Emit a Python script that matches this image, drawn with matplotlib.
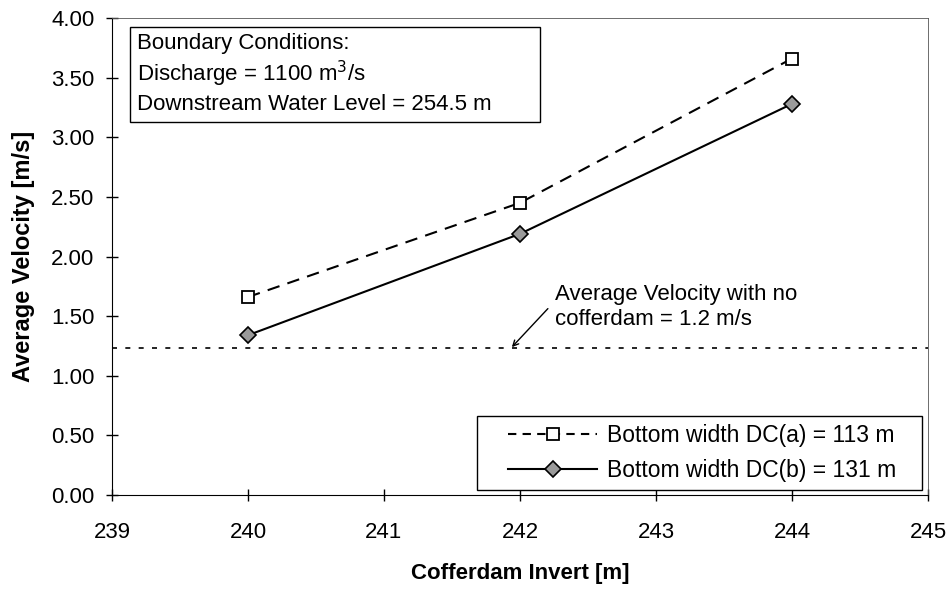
import numpy as np
import matplotlib.pyplot as plt
from matplotlib.lines import Line2D
from matplotlib.patches import Rectangle

plt.rcParams['font.family'] = ['Liberation Sans', 'DejaVu Sans']

# data
invert = [240, 242, 244]
vel_a = [1.66, 2.45, 3.66]      # bottom width DC(a) = 113 m
vel_b = [1.34, 2.19, 3.28]      # bottom width DC(b) = 131 m
no_cofferdam_x = [239, 245]
no_cofferdam_v = [1.23, 1.23]

xticks = [239, 240, 241, 242, 243, 244, 245]
yticks = [0.0, 0.5, 1.0, 1.5, 2.0, 2.5, 3.0, 3.5, 4.0]
box_lines = ['Boundary Conditions:', 'Discharge = 1100 m$^3$/s',
             'Downstream Water Level = 254.5 m']
labels = ['Bottom width DC(a) = 113 m', 'Bottom width DC(b) = 131 m']

fs = 16

fig = plt.figure(figsize=(9.53, 5.9), dpi=100)
ax = fig.add_axes([0.1175, 0.161, 0.8563, 0.8085])

ax.plot(no_cofferdam_x, no_cofferdam_v, color='black', lw=1.2, ls=(0, (3, 5)))
ax.plot(invert, vel_a, color='black', lw=1.5, ls=(0, (6, 4)),
        marker='s', ms=9, mfc='white', mec='black', mew=1.3)
ax.plot(invert, vel_b, color='black', lw=1.5, ls='-',
        marker='D', ms=8, mfc='#9a9a9a', mec='black', mew=1.2)

ax.set_xlim(239, 245)
ax.set_ylim(0, 4)
ax.set_xticks(xticks)
ax.set_yticks(yticks)
ax.set_yticklabels(['%.2f' % v for v in yticks])
ax.tick_params(direction='inout', length=9, width=1, labelsize=fs)
ax.tick_params(axis='x', pad=15)
ax.tick_params(axis='y', pad=8)
for s in ['top', 'right']:
    ax.spines[s].set_linewidth(0.6)
    ax.spines[s].set_color('#555555')

ax.set_xlabel('Cofferdam Invert [m]', fontsize=fs, fontweight='bold', labelpad=14)
ax.set_ylabel('Average Velocity [m/s]', fontsize=17, fontweight='bold', labelpad=12)

# boundary conditions box
ax.add_patch(Rectangle((239.136, 3.126), 3.011, 0.798, fc='white', ec='black',
                       lw=1, zorder=3))
for i, line in enumerate(box_lines):
    ax.text(239.186, 3.782 - i * 0.253, line, fontsize=fs, va='center',
            ha='left', zorder=4)

# note on the no-cofferdam velocity
ax.text(242.256, 1.58, 'Average Velocity with no\ncofferdam = 1.2 m/s',
        fontsize=fs, ha='left', va='center', linespacing=1.25)
ax.annotate('', xy=(241.94, 1.24), xytext=(242.205, 1.563),
            arrowprops=dict(arrowstyle='->', color='black', lw=1,
                            shrinkA=0, shrinkB=0))

# legend, with its frame drawn as a separate box
ax.add_patch(Rectangle((0.4473, 0.0105), 0.5453, 0.1551, transform=ax.transAxes,
                       fc='white', ec='black', lw=1, zorder=3))
handles = [
    Line2D([], [], color='black', lw=1.5, ls=(0, (4, 3)), marker='s', ms=9,
           mfc='white', mec='black', mew=1.3),
    Line2D([], [], color='black', lw=1.5, marker='D', ms=8,
           mfc='#9a9a9a', mec='black', mew=1.2),
]
leg = ax.legend(handles, labels, loc='center left',
                bbox_to_anchor=(0.4853, 0.088), fontsize=16.5,
                frameon=False, handlelength=3.9, handletextpad=0.4,
                borderpad=0, borderaxespad=0, labelspacing=0.5)
leg.set_zorder(4)

fig.savefig('out.png', dpi=100)
